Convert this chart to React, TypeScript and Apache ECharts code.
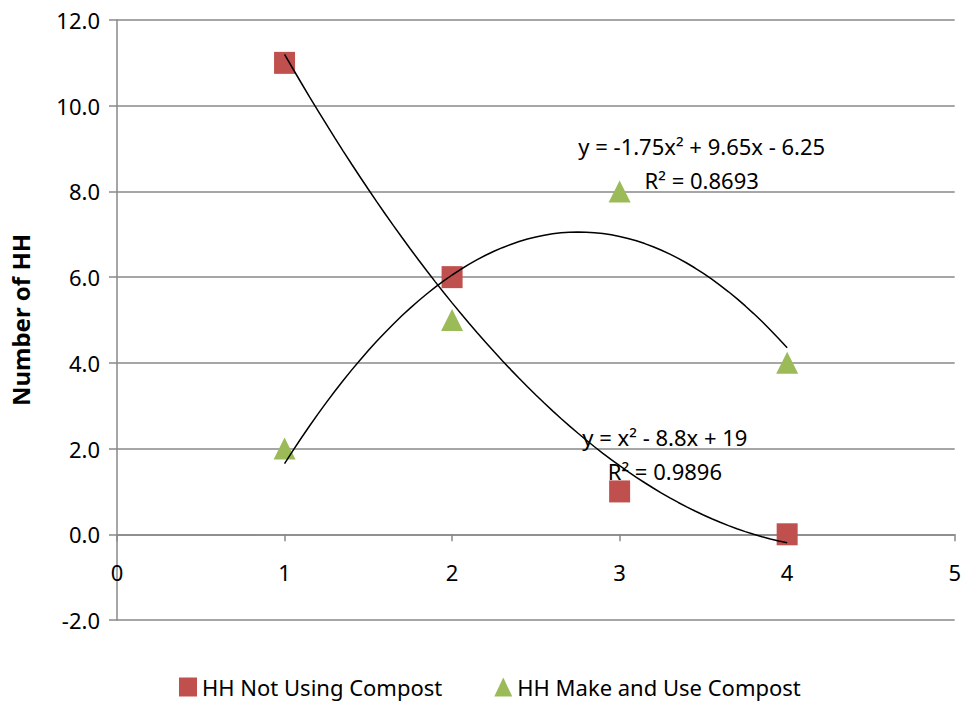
import React, { useEffect, useRef } from "react";
import * as echarts from "echarts";

const seriesNames = ["HH Not Using Compost", "HH Make and Use Compost"];
const xValues = [1, 2, 3, 4];
const notUsing = [11, 6, 1, 0];
const makeUse = [2, 5, 8, 4];
// trendline coefficients [a, b, c] for y = a x^2 + b x + c
const trendNotUsing = [1, -8.8, 19];
const trendMakeUse = [-1.75, 9.65, -6.25];
const eqNotUsing = ["y = x² - 8.8x + 19", "R² = 0.9896"];
const eqMakeUse = ["y = -1.75x² + 9.65x - 6.25", "R² = 0.8693"];
const eqNotUsingPos = [3.27, 2.26, 1.47];
const eqMakeUsePos = [3.49, 9.05, 8.26];

const FONT = "Noto Sans";

function trendPoints(coef: number[]) {
  const pts: number[][] = [];
  const x0 = xValues[0];
  const x1 = xValues[xValues.length - 1];
  const n = 60;
  for (let i = 0; i <= n; i++) {
    const x = x0 + ((x1 - x0) * i) / n;
    pts.push([x, coef[0] * x * x + coef[1] * x + coef[2]]);
  }
  return pts;
}

export default function App() {
  const ref = useRef<HTMLDivElement>(null);
  useEffect(() => {
    if (!ref.current) return;
    const chart = echarts.init(ref.current, null, { renderer: "svg" });
    const option: any = {
      animation: false,
      backgroundColor: "#ffffff",
      textStyle: { fontFamily: FONT },
      grid: { left: 117, right: 4, top: 20, bottom: 84, containLabel: false },
      legend: {
        bottom: 1,
        left: 174,
        itemGap: 52,
        itemWidth: 18,
        itemHeight: 19,
        textStyle: { fontFamily: FONT, fontSize: 22, color: "#000" },
        data: [
          { name: seriesNames[0], icon: "rect" },
          { name: seriesNames[1], icon: "triangle" },
        ],
      },
      xAxis: {
        type: "value",
        min: 0,
        max: 5,
        interval: 1,
        offset: 0,
        axisLine: { onZero: false, lineStyle: { color: "#888", width: 1.5 } },
        axisTick: { show: true, length: 7, lineStyle: { color: "#888", width: 1.5 } },
        axisLabel: { margin: 27, fontSize: 22, color: "#000", fontFamily: FONT },
        splitLine: { show: false },
      },
      yAxis: {
        type: "value",
        min: -2,
        max: 12,
        interval: 2,
        name: "Number of HH",
        nameLocation: "middle",
        nameGap: 85,
        nameTextStyle: { fontSize: 24, fontWeight: "bold", color: "#000", fontFamily: FONT },
        axisLine: { show: true, onZero: false, lineStyle: { color: "#888", width: 1.5 } },
        axisTick: { show: true, length: 8, lineStyle: { color: "#888", width: 1.5 } },
        axisLabel: {
          margin: 17,
          fontSize: 22,
          color: "#000",
          fontFamily: FONT,
          formatter: (v: number) => v.toFixed(1),
        },
        splitLine: { show: true, lineStyle: { color: "#888", width: 1.5 } },
      },
      series: [
        {
          name: seriesNames[0],
          type: "scatter",
          symbol: "rect",
          symbolSize: [21, 22],
          itemStyle: { color: "#C0504D", opacity: 1 },
          data: xValues.map((x, i) => [x, notUsing[i]]),
          z: 3,
        },
        {
          name: seriesNames[1],
          type: "scatter",
          symbol: "triangle",
          symbolSize: 22,
          itemStyle: { color: "#9BBB59", opacity: 1 },
          data: xValues.map((x, i) => [x, makeUse[i]]),
          z: 3,
        },
        {
          name: "trend1",
          type: "line",
          data: trendPoints(trendNotUsing),
          showSymbol: false,
          symbol: "none",
          lineStyle: { color: "#000", width: 1.5 },
          z: 4,
          silent: true,
        },
        {
          name: "trend2",
          type: "line",
          data: trendPoints(trendMakeUse),
          showSymbol: false,
          symbol: "none",
          lineStyle: { color: "#000", width: 1.5 },
          z: 4,
          silent: true,
        },
      ],
    };
    chart.setOption(option);

    // place the x axis line on y = 0
    const pZero = chart.convertToPixel({ gridIndex: 0 }, [0, 0]) as number[];
    const pMin = chart.convertToPixel({ gridIndex: 0 }, [0, -2]) as number[];
    const shift = pMin[1] - pZero[1];

    const mk = (text: string, x: number, y: number) => {
      const p = chart.convertToPixel({ gridIndex: 0 }, [x, y]) as number[];
      return {
        type: "text",
        x: p[0],
        y: p[1],
        z: 10,
        style: {
          text,
          fontSize: 22,
          fontFamily: FONT,
          fill: "#000",
          align: "center",
          verticalAlign: "middle",
        },
      };
    };
    chart.setOption({
      xAxis: { offset: -shift },
      graphic: [
        mk(eqMakeUse[0], eqMakeUsePos[0], eqMakeUsePos[1]),
        mk(eqMakeUse[1], eqMakeUsePos[0], eqMakeUsePos[2]),
        mk(eqNotUsing[0], eqNotUsingPos[0], eqNotUsingPos[1]),
        mk(eqNotUsing[1], eqNotUsingPos[0], eqNotUsingPos[2]),
      ],
    });
    return () => chart.dispose();
  }, []);
  return (
    <div
      ref={ref}
      style={{ position: "absolute", left: 0, top: 0, width: 964, height: 704 }}
    />
  );
}
